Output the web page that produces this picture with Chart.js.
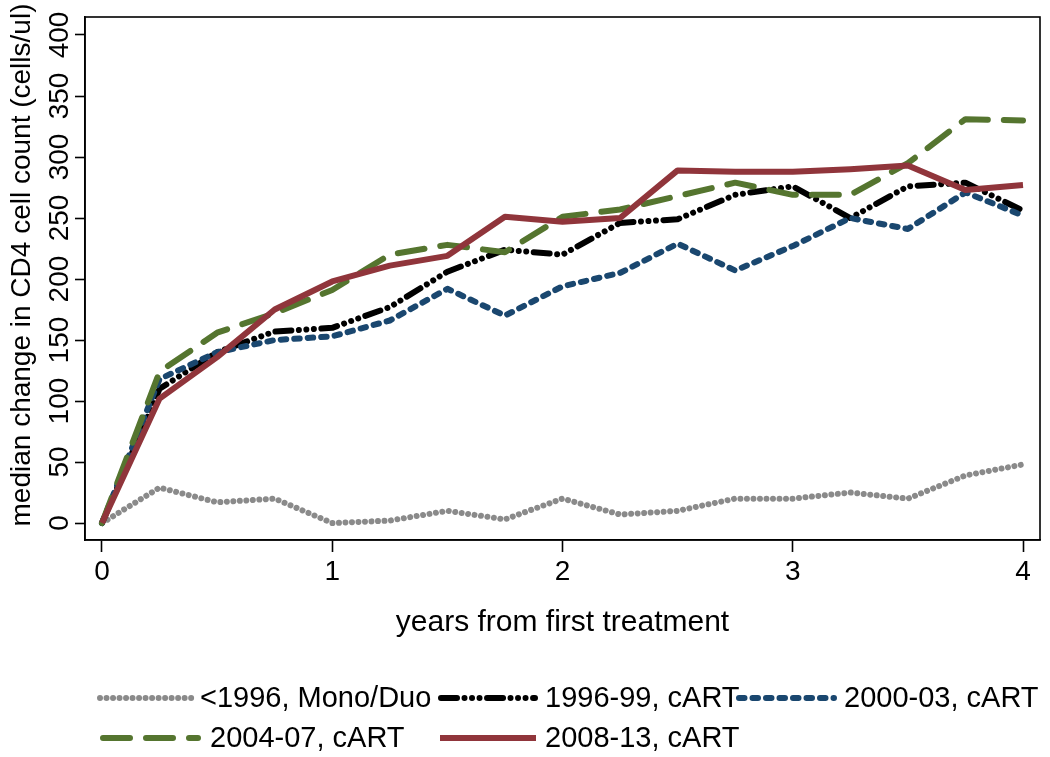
<!DOCTYPE html>
<html>
<head>
<meta charset="utf-8">
<script src="https://cdn.jsdelivr.net/npm/chart.js@4.4.1/dist/chart.umd.min.js"></script>
<style>
  html, body { margin: 0; padding: 0; background: #fff; }
  #wrap { width: 1050px; height: 757px; position: relative; }
</style>
</head>
<body>
<div id="wrap"><canvas id="cd4Chart"></canvas></div>
<script>
// years since first treatment (quarterly)
const years = [0, 0.25, 0.5, 0.75, 1, 1.25, 1.5, 1.75, 2, 2.25, 2.5, 2.75, 3, 3.25, 3.5, 3.75, 4];

// median change in CD4 count, by period of treatment start
const pre1996 = [0, 29, 17, 20, 0, 2, 10, 3, 20, 7, 10, 20, 20, 25, 20, 39, 48];
const cart9699 = [0, 110, 140, 157, 160, 177, 206, 224, 220, 246, 249, 269, 276, 250, 276, 279, 256];
const cart0003 = [0, 118, 140, 150, 153, 166, 192, 170, 194, 205, 229, 207, 227, 250, 241, 271, 252];
const cart0407 = [0, 124, 156, 172, 191, 220, 228, 222, 251, 257, 268, 279, 269, 269, 295, 331, 330];
const cart0813 = [0, 102, 136, 175, 198, 211, 219, 251, 247, 250, 289, 288, 288, 290, 293, 273, 277];

const seriesLabels = ["<1996, Mono/Duo", "1996-99, cART", "2000-03, cART", "2004-07, cART", "2008-13, cART"];

const xTicks = [0, 1, 2, 3, 4];
const yTicks = [0, 50, 100, 150, 200, 250, 300, 350, 400];

const yTitle = "median change in CD4 cell count (cells/ul)";
const FONT = "'Liberation Sans', Arial, sans-serif";

const toPoints = (vals) => years.map((x, i) => ({ x: x, y: vals[i] }));

function lineSet(label, vals, color, dash, order) {
  return {
    label: label,
    data: toPoints(vals),
    borderColor: color,
    borderWidth: 6,
    borderDash: dash,
    borderCapStyle: "round",
    borderJoinStyle: "round",
    pointRadius: 0,
    fill: false,
    tension: 0,
    order: order
  };
}

const datasets = [
  lineSet(seriesLabels[0], pre1996, "#8a8a8a", [0.01, 6.5], 5),
  lineSet(seriesLabels[1], cart9699, "#000000", [16, 7.5, 0.01, 7.5, 0.01, 7.5, 0.01, 7.5], 4),
  lineSet(seriesLabels[2], cart0003, "#1a476f", [5.5, 8], 3),
  lineSet(seriesLabels[3], cart0407, "#55752f", [27, 16], 2),
  lineSet(seriesLabels[4], cart0813, "#90353b", [], 1)
];
datasets[4].borderCapStyle = "butt";

// legend slots (Stata style, 3 columns)
const legendSlots = [
  { x1: 100, x2: 192, tx: 200, y: 698 },
  { x1: 441, x2: 535, tx: 545, y: 698 },
  { x1: 739, x2: 834, tx: 844, y: 698 },
  { x1: 103, x2: 198, tx: 210, y: 738 },
  { x1: 440, x2: 536, tx: 545, y: 738 }
];

const framePlugin = {
  id: "frame",
  afterDraw(chart) {
    const { ctx, chartArea } = chart;
    ctx.save();
    ctx.strokeStyle = "#000";
    ctx.lineWidth = 1.6;
    ctx.strokeRect(chartArea.left, chartArea.top, chartArea.right - chartArea.left, chartArea.bottom - chartArea.top);

    // y axis title
    ctx.save();
    ctx.translate(22, 265);
    ctx.rotate(-Math.PI / 2);
    ctx.font = "28px " + FONT;
    ctx.fillStyle = "#000";
    ctx.textAlign = "center";
    ctx.textBaseline = "middle";
    ctx.fillText(yTitle, 0, 0);
    ctx.restore();

    // legend
    ctx.font = "29px " + FONT;
    ctx.textBaseline = "middle";
    ctx.textAlign = "left";
    chart.data.datasets.forEach((ds, i) => {
      const s = legendSlots[i];
      ctx.beginPath();
      ctx.strokeStyle = ds.borderColor;
      ctx.lineWidth = ds.borderWidth;
      ctx.lineCap = ds.borderCapStyle;
      ctx.setLineDash(ds.borderDash);
      ctx.moveTo(s.x1, s.y);
      ctx.lineTo(s.x2, s.y);
      ctx.stroke();
      ctx.setLineDash([]);
      ctx.fillStyle = "#000";
      ctx.fillText(ds.label, s.tx, s.y + 1);
    });
    ctx.restore();
  }
};

new Chart(document.getElementById("cd4Chart"), {
  type: "line",
  data: { datasets: datasets },
  options: {
    responsive: true,
    maintainAspectRatio: false,
    animation: false,
    layout: { padding: { left: 0, top: 17, right: 10, bottom: 107 } },
    plugins: { legend: { display: false }, tooltip: { enabled: false } },
    scales: {
      x: {
        type: "linear",
        min: -0.0738,
        max: 4.0738,
        afterBuildTicks: (scale) => { scale.ticks = xTicks.map(v => ({ value: v })); },
        afterFit: (scale) => { scale.height = 110; },
        grid: { drawOnChartArea: false, drawTicks: true, tickLength: 12, color: "#000", tickWidth: 1.6 },
        border: { display: true, color: "#000", width: 1.6 },
        ticks: {
          color: "#000",
          padding: 3,
          maxRotation: 0,
          font: { family: FONT, size: 28 }
        },
        title: {
          display: true,
          text: "years from first treatment",
          color: "#000",
          padding: { top: 0, bottom: 9 },
          font: { family: FONT, size: 30 }
        }
      },
      y: {
        min: -13.9,
        max: 414.75,
        afterBuildTicks: (scale) => { scale.ticks = yTicks.map(v => ({ value: v })); },
        afterFit: (scale) => { scale.width = 85; },
        grid: { drawOnChartArea: false, drawTicks: true, tickLength: 10, color: "#000", tickWidth: 1.6 },
        border: { display: true, color: "#000", width: 1.6 },
        ticks: {
          color: "#000",
          padding: -9,
          minRotation: 90,
          maxRotation: 90,
          crossAlign: "center",
          font: { family: FONT, size: 28 }
        },
        title: { display: false }
      }
    }
  },
  plugins: [framePlugin]
});
</script>
</body>
</html>
